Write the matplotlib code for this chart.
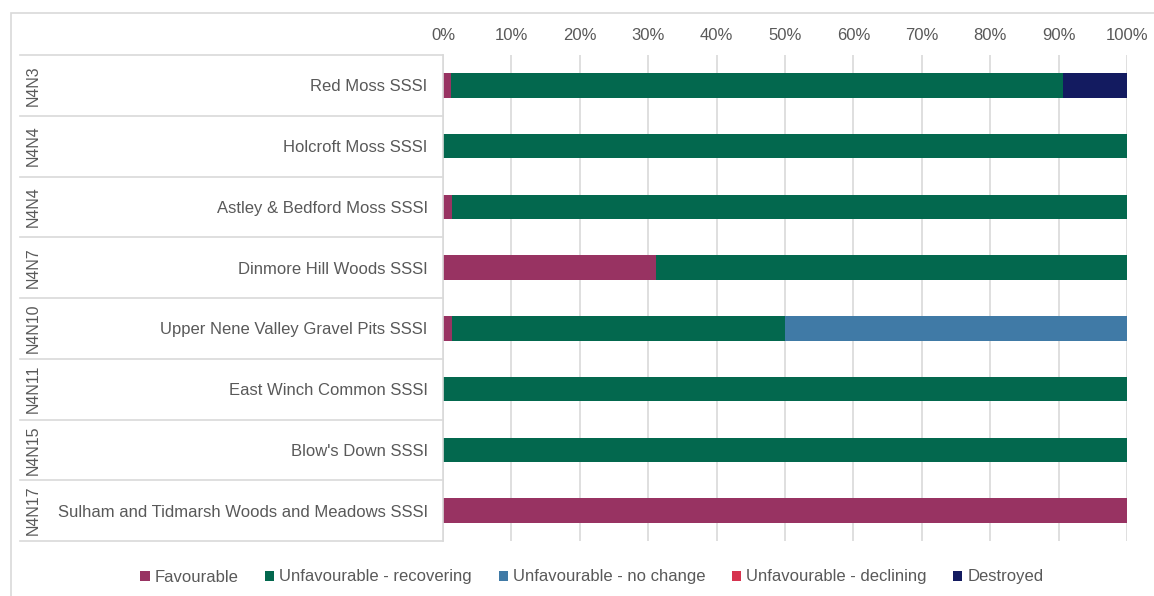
import matplotlib.pyplot as plt
import numpy as np
from matplotlib.patches import Rectangle

# --- Data ---
codes = ["N4N3", "N4N4", "N4N4", "N4N7", "N4N10", "N4N11", "N4N15", "N4N17"]
sites = ["Red Moss SSSI", "Holcroft Moss SSSI", "Astley & Bedford Moss SSSI",
         "Dinmore Hill Woods SSSI", "Upper Nene Valley Gravel Pits SSSI",
         "East Winch Common SSSI", "Blow's Down SSSI",
         "Sulham and Tidmarsh Woods and Meadows SSSI"]
favourable = [1.2, 0.0, 1.3, 31.2, 1.3, 0.0, 0.0, 100.0]
unfav_recovering = [89.5, 100.0, 98.7, 68.8, 48.7, 100.0, 100.0, 0.0]
unfav_no_change = [0.0, 0.0, 0.0, 0.0, 50.0, 0.0, 0.0, 0.0]
unfav_declining = [0.0, 0.0, 0.0, 0.0, 0.0, 0.0, 0.0, 0.0]
destroyed = [9.3, 0.0, 0.0, 0.0, 0.0, 0.0, 0.0, 0.0]

series = [
    ("Favourable", favourable, "#983362"),
    ("Unfavourable - recovering", unfav_recovering, "#03684e"),
    ("Unfavourable - no change", unfav_no_change, "#407aa6"),
    ("Unfavourable - declining", unfav_declining, "#d6334f"),
    ("Destroyed", destroyed, "#131b60"),
]

TXT = "#595959"
LINE = "#d9d9d9"
W, H = 1154, 596
FS = 12

plt.rcParams['font.family'] = ['Liberation Sans', 'DejaVu Sans']

fig = plt.figure(figsize=(W / 100, H / 100), dpi=100)
ax = fig.add_axes([443 / W, 1 - 541 / H, (1127 - 443) / W, (541 - 55) / H])

# outer chart border
fig.patches.append(Rectangle((11 / W, -0.05), 1.1, 1 - 13 / H + 0.05,
                             transform=fig.transFigure, fill=False,
                             edgecolor=LINE, linewidth=1.2, zorder=0))

y = np.arange(len(sites))
left = np.zeros(len(sites))
for name, vals, col in series:
    vals = np.array(vals)
    ax.barh(y, vals, left=left, height=0.4, color=col, label=name, zorder=2)
    left += vals

ax.set_xlim(0, 100)
ax.set_ylim(len(sites) - 0.5, -0.5)
ax.set_xticks(np.arange(0, 101, 10))
ax.set_xticklabels([f"{v}%" for v in range(0, 101, 10)])
ax.xaxis.tick_top()
ax.tick_params(axis='x', length=0, pad=9, labelsize=FS, labelcolor=TXT)
ax.grid(axis='x', color=LINE, linewidth=1.2, zorder=0)
ax.set_axisbelow(True)

ax.set_yticks(y)
ax.set_yticklabels(sites)
ax.tick_params(axis='y', length=0, pad=11, labelsize=FS, labelcolor=TXT)

for s in ["top", "right", "bottom"]:
    ax.spines[s].set_visible(False)
ax.spines["left"].set_color(LINE)
ax.spines["left"].set_linewidth(1.2)

# category table lines and group codes
x0 = (20 - 443) / (1127 - 443)
trans = ax.get_yaxis_transform()
for b in np.arange(-0.5, len(sites), 1.0):
    ax.plot([x0, 0], [b, b], color=LINE, linewidth=1.2, transform=trans,
            clip_on=False)
xc = (33 - 443) / (1127 - 443)
for i, c in enumerate(codes):
    ax.text(xc, i, c, rotation=90, ha='center', va='center', fontsize=FS - 0.5,
            color=TXT, transform=trans)

fig.legend(loc='center', bbox_to_anchor=(592 / W, 1 - 577 / H), ncol=5,
           frameon=False, fontsize=FS, labelcolor=TXT, handlelength=0.55,
           handleheight=0.55, handletextpad=0.3, columnspacing=1.6)

fig.savefig("out.png", dpi=100)
